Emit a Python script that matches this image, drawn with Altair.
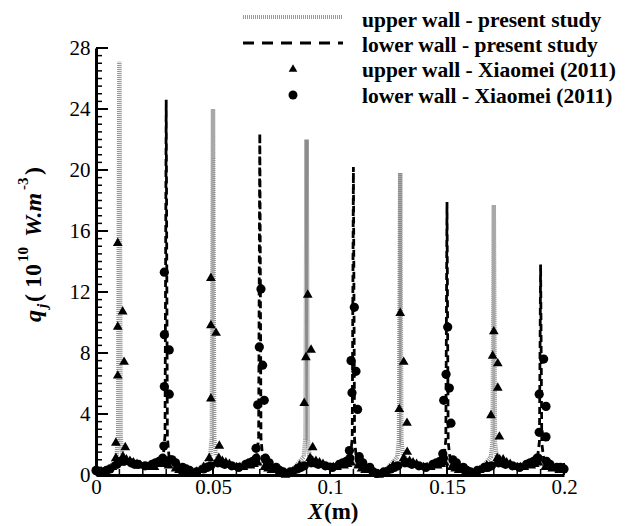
import altair as alt
import pandas as pd

# ---------------- data ----------------
upper_line = [
    (0, 0.2), (0.003, 0.3), (0.006, 0.5), (0.0088, 1.2), (0.0095, 2.6), (0.0100, 27.1), (0.0105, 2.5), (0.0112, 1.3),
    (0.013, 1.0), (0.017, 0.8), (0.021, 0.6), (0.025, 0.6), (0.029, 0.8), (0.033, 0.6), (0.037, 0.3), (0.041, 0.2),
    (0.045, 0.5), (0.0488, 1.2), (0.0495, 2.5), (0.0500, 24.0), (0.0505, 2.4), (0.0512, 1.3), (0.053, 1.0), (0.057, 0.7),
    (0.061, 0.6), (0.065, 0.6), (0.069, 0.8), (0.073, 0.6), (0.077, 0.3), (0.081, 0.1), (0.085, 0.5), (0.0888, 1.2),
    (0.0895, 2.4), (0.0900, 22.0), (0.0905, 2.3), (0.0912, 1.3), (0.093, 1.0), (0.097, 0.7), (0.101, 0.6), (0.105, 0.6),
    (0.109, 0.8), (0.113, 0.6), (0.117, 0.3), (0.121, 0.1), (0.125, 0.5), (0.1288, 1.2), (0.1295, 2.3), (0.1300, 19.8),
    (0.1305, 2.2), (0.1312, 1.3), (0.133, 1.0), (0.137, 0.7), (0.141, 0.6), (0.145, 0.6), (0.149, 0.8), (0.153, 0.6),
    (0.157, 0.3), (0.161, 0.2), (0.165, 0.5), (0.1688, 1.2), (0.1695, 2.2), (0.1700, 17.7), (0.1705, 2.1), (0.1712, 1.3),
    (0.173, 1.0), (0.177, 0.7), (0.181, 0.6), (0.185, 0.6), (0.189, 0.8), (0.193, 0.6), (0.197, 0.4), (0.2, 0.3),
]

lower_line = [
    (0, 0.3), (0.004, 0.2), (0.008, 0.5), (0.012, 0.8), (0.016, 0.7), (0.020, 0.6), (0.024, 0.7), (0.027, 0.9),
    (0.0288, 1.3), (0.0295, 2.6), (0.0300, 24.6), (0.0305, 2.5), (0.0312, 1.2), (0.033, 0.9), (0.037, 0.5), (0.041, 0.2),
    (0.045, 0.3), (0.049, 0.6), (0.053, 0.8), (0.057, 0.6), (0.061, 0.5), (0.064, 0.7), (0.067, 1.0), (0.0688, 1.3),
    (0.0695, 2.5), (0.0700, 22.4), (0.0705, 2.4), (0.0712, 1.2), (0.073, 0.9), (0.077, 0.5), (0.081, 0.1), (0.085, 0.3),
    (0.089, 0.6), (0.093, 0.8), (0.097, 0.6), (0.101, 0.5), (0.104, 0.7), (0.107, 1.0), (0.1088, 1.3), (0.1095, 2.4),
    (0.1100, 20.2), (0.1105, 2.3), (0.1112, 1.2), (0.113, 0.9), (0.117, 0.5), (0.121, 0.0), (0.125, 0.3), (0.129, 0.6),
    (0.133, 0.8), (0.137, 0.6), (0.141, 0.5), (0.144, 0.7), (0.147, 1.0), (0.1488, 1.3), (0.1495, 2.3), (0.1500, 17.9),
    (0.1505, 2.2), (0.1512, 1.2), (0.153, 0.9), (0.157, 0.5), (0.161, 0.2), (0.165, 0.3), (0.169, 0.6), (0.173, 0.8),
    (0.177, 0.6), (0.181, 0.5), (0.184, 0.7), (0.187, 1.0), (0.1888, 1.3), (0.1895, 2.2), (0.1900, 13.8), (0.1905, 2.1),
    (0.1912, 1.2), (0.193, 0.8), (0.196, 0.5), (0.2, 0.4),
]

upper_ref = [
    (0.0093, 15.3), (0.0093, 9.8), (0.0114, 10.8), (0.0120, 7.5), (0.0093, 6.6), (0.0085, 2.2), (0.0125, 1.9), (0.0085, 1.2),
    (0.0491, 13.0), (0.0491, 9.9), (0.0513, 9.4), (0.0491, 5.1), (0.0527, 2.0), (0.0484, 1.2),
    (0.0905, 11.9), (0.0919, 8.3), (0.0897, 7.8), (0.0890, 4.8), (0.0926, 1.9), (0.0925, 1.0),
    (0.1300, 10.7), (0.1315, 7.5), (0.1296, 4.4), (0.1329, 3.5), (0.1330, 1.6),
    (0.1700, 9.5), (0.1695, 7.9), (0.1717, 7.4), (0.1717, 5.8), (0.1688, 4.0), (0.1724, 2.6), (0.1725, 1.1),
    (0.001, 0.3), (0.004, 0.3), (0.007, 0.6), (0.013, 1.1), (0.016, 0.9), (0.019, 0.7), (0.022, 0.6), (0.025, 0.6),
    (0.028, 0.8), (0.031, 0.7), (0.034, 0.5), (0.037, 0.3), (0.040, 0.2), (0.043, 0.3), (0.046, 0.6), (0.054, 1.0),
    (0.057, 0.8), (0.060, 0.6), (0.063, 0.6), (0.066, 0.7), (0.069, 0.9), (0.072, 0.6), (0.075, 0.4), (0.078, 0.2),
    (0.081, 0.1), (0.084, 0.3), (0.087, 0.7), (0.094, 1.0), (0.097, 0.8), (0.100, 0.6), (0.103, 0.6), (0.106, 0.7),
    (0.109, 0.9), (0.112, 0.7), (0.115, 0.4), (0.118, 0.2), (0.121, 0.1), (0.124, 0.3), (0.127, 0.7), (0.134, 1.0),
    (0.137, 0.8), (0.140, 0.6), (0.143, 0.6), (0.146, 0.7), (0.149, 0.9), (0.152, 0.6), (0.155, 0.4), (0.158, 0.3),
    (0.161, 0.2), (0.164, 0.4), (0.167, 0.7), (0.174, 1.1), (0.177, 0.8), (0.180, 0.6), (0.183, 0.6), (0.186, 0.7),
    (0.189, 0.9), (0.192, 0.6), (0.195, 0.5), (0.198, 0.4),
    (0.0025, 0.2), (0.0115, 1.3), (0.0145, 1.0), (0.0175, 0.8), (0.0235, 0.6), (0.0295, 0.8), (0.0355, 0.4),
    (0.0445, 0.4), (0.0525, 1.2), (0.0555, 0.9), (0.0615, 0.6), (0.0675, 0.8), (0.0735, 0.5), (0.0855, 0.5),
    (0.0915, 1.2), (0.0955, 0.9), (0.1015, 0.6), (0.1075, 0.8), (0.1135, 0.5), (0.1255, 0.5), (0.1315, 1.2),
    (0.1355, 0.9), (0.1415, 0.6), (0.1475, 0.8), (0.1535, 0.5), (0.1655, 0.5), (0.1715, 1.2), (0.1755, 0.9),
    (0.1815, 0.6), (0.1875, 0.8), (0.1935, 0.6),
]

lower_ref = [
    (0.0292, 13.3), (0.0292, 9.2), (0.0313, 8.2), (0.0292, 5.8), (0.0313, 5.3), (0.0290, 1.9), (0.0318, 1.0),
    (0.0705, 12.2), (0.0698, 8.4), (0.0712, 7.2), (0.0691, 4.6), (0.0719, 4.9), (0.0684, 1.75), (0.0724, 1.1),
    (0.1104, 11.0), (0.1090, 7.5), (0.1111, 6.8), (0.1094, 5.4), (0.1118, 4.3), (0.1083, 1.6), (0.1125, 1.2),
    (0.1503, 9.7), (0.1496, 6.6), (0.1510, 5.7), (0.1486, 4.9), (0.1517, 3.4), (0.1482, 1.4),
    (0.1913, 7.6), (0.1894, 5.3), (0.1923, 4.5), (0.1894, 2.8), (0.1923, 2.5), (0.1890, 1.1),
    (0.000, 0.3), (0.003, 0.2), (0.006, 0.4), (0.009, 0.7), (0.012, 0.9), (0.015, 0.8), (0.018, 0.7), (0.021, 0.6),
    (0.024, 0.7), (0.027, 0.9), (0.034, 0.8), (0.037, 0.5), (0.040, 0.3), (0.043, 0.2), (0.046, 0.4), (0.049, 0.6),
    (0.052, 0.8), (0.055, 0.7), (0.058, 0.6), (0.061, 0.5), (0.064, 0.7), (0.067, 0.9), (0.074, 0.8), (0.077, 0.5),
    (0.080, 0.2), (0.083, 0.2), (0.086, 0.4), (0.089, 0.6), (0.092, 0.8), (0.095, 0.7), (0.098, 0.6), (0.101, 0.5),
    (0.104, 0.7), (0.107, 0.9), (0.114, 0.8), (0.117, 0.5), (0.120, 0.1), (0.123, 0.2), (0.126, 0.4), (0.129, 0.6),
    (0.132, 0.8), (0.135, 0.7), (0.138, 0.6), (0.141, 0.5), (0.144, 0.7), (0.147, 0.9), (0.154, 0.8), (0.157, 0.5),
    (0.160, 0.2), (0.163, 0.3), (0.166, 0.5), (0.169, 0.6), (0.172, 0.8), (0.175, 0.7), (0.178, 0.6), (0.181, 0.5),
    (0.184, 0.7), (0.187, 0.9), (0.194, 0.7), (0.197, 0.5), (0.200, 0.4),
    (0.0045, 0.3), (0.0105, 0.9), (0.0165, 0.7), (0.0255, 0.8), (0.0285, 1.1), (0.0325, 1.0), (0.0385, 0.4),
    (0.0475, 0.5), (0.0535, 0.8), (0.0655, 0.8), (0.0685, 1.1), (0.0725, 1.0), (0.0785, 0.3), (0.0875, 0.5),
    (0.0935, 0.8), (0.1055, 0.8), (0.1085, 1.1), (0.1125, 1.0), (0.1185, 0.2), (0.1275, 0.5), (0.1335, 0.8),
    (0.1455, 0.8), (0.1485, 1.1), (0.1525, 1.0), (0.1585, 0.3), (0.1675, 0.5), (0.1735, 0.8), (0.1855, 0.8),
    (0.1885, 1.1), (0.1925, 0.9), (0.1985, 0.5),
]

x_ticks = [0, 0.05, 0.1, 0.15, 0.2]
x_minor = [0.01, 0.02, 0.03, 0.04, 0.06, 0.07, 0.08, 0.09, 0.11, 0.12, 0.13, 0.14, 0.16, 0.17, 0.18, 0.19]
y_ticks = [0, 4, 8, 12, 16, 20, 24, 28]
y_minor = [v / 2 for v in range(57) if v % 8 != 0]

legend_labels = [
    "upper wall - present study",
    "lower wall - present study",
    "upper wall - Xiaomei (2011)",
    "lower wall - Xiaomei (2011)",
]

# ---------------- layout ----------------
W, H = 468, 427
SERIF = "Liberation Serif, Times New Roman, serif"

def df(pairs):
    return pd.DataFrame(pairs, columns=["x", "y"])

xscale = alt.Scale(domain=[0, 0.2], nice=False, zero=False)
yscale = alt.Scale(domain=[0, 28], nice=False, zero=False)
xaxis = alt.Axis(values=x_ticks, format="~g", title=None, ticks=False, grid=False,
                 domainColor="black", domainWidth=3, labelFont=SERIF, labelFontSize=21,
                 labelColor="black", labelPadding=1, labelFlush=False, labelOverlap=False)
yaxis = alt.Axis(values=y_ticks, title=None, ticks=False, grid=False,
                 domainColor="black", domainWidth=3, labelFont=SERIF, labelFontSize=21,
                 labelColor="black", labelPadding=6, labelOverlap=False)

def X(field="x"):
    return alt.X(f"{field}:Q", scale=xscale, axis=xaxis)

def Y(field="y"):
    return alt.Y(f"{field}:Q", scale=yscale, axis=yaxis)

upper = alt.Chart(df(upper_line)).mark_line(
    color="#8c8c8c", strokeWidth=4.5, strokeDash=[1, 1]
).encode(x=X(), y=Y())

lower = alt.Chart(df(lower_line)).mark_line(
    color="black", strokeWidth=2.8, strokeDash=[7, 4]
).encode(x=X(), y=Y())

tri = alt.Chart(df(upper_ref)).mark_point(
    shape="triangle-up", filled=True, color="black", opacity=1, size=95
).encode(x=X(), y=Y())

circ = alt.Chart(df(lower_ref)).mark_point(
    shape="circle", filled=True, color="black", opacity=1, size=85
).encode(x=X(), y=Y())

# inward tick marks
ymaj = alt.Chart(pd.DataFrame({"y": y_ticks})).mark_rule(color="black", strokeWidth=2).encode(
    y=Y(), x=alt.value(0), x2=alt.value(12))
ymin = alt.Chart(pd.DataFrame({"y": y_minor})).mark_rule(color="black", strokeWidth=1.5).encode(
    y=Y(), x=alt.value(0), x2=alt.value(6))
xmaj = alt.Chart(pd.DataFrame({"x": x_ticks})).mark_rule(color="black", strokeWidth=2).encode(
    x=X(), y=alt.value(H), y2=alt.value(H - 12))
xmin = alt.Chart(pd.DataFrame({"x": x_minor})).mark_rule(color="black", strokeWidth=1.5).encode(
    x=X(), y=alt.value(H), y2=alt.value(H - 6))

one = pd.DataFrame({"k": [0]})

def txt(s, x, y, size=21, style="normal", weight="bold", align="left", baseline="middle", angle=0):
    return alt.Chart(one).mark_text(
        text=s, font=SERIF, fontSize=size, fontStyle=style, fontWeight=weight,
        align=align, baseline=baseline, angle=angle, color="black"
    ).encode(x=alt.value(x), y=alt.value(y))

# legend
leg_x0, leg_x1, lab_x = 147, 247, 266
sym_rows = [-31, -5, 20, 47]
lab_rows = [-27, -2, 23, 49]
leg = [
    alt.Chart(one).mark_rule(color="#9a9a9a", strokeWidth=4, strokeDash=[1, 1]).encode(
        x=alt.value(leg_x0), x2=alt.value(leg_x1), y=alt.value(sym_rows[0])),
    alt.Chart(one).mark_rule(color="black", strokeWidth=2.8, strokeDash=[11, 8]).encode(
        x=alt.value(leg_x0), x2=alt.value(leg_x1), y=alt.value(sym_rows[1])),
    alt.Chart(one).mark_point(shape="triangle-up", filled=True, color="black", opacity=1, size=75).encode(
        x=alt.value(197), y=alt.value(sym_rows[2])),
    alt.Chart(one).mark_point(shape="circle", filled=True, color="black", opacity=1, size=80).encode(
        x=alt.value(197), y=alt.value(sym_rows[3])),
]
for lbl, yy in zip(legend_labels, lab_rows):
    leg.append(txt(lbl, lab_x, yy, size=21.5))

# axis titles
xt = [
    txt("X", 212, 471, size=23, style="italic", baseline="alphabetic"),
    txt("(m)", 228, 471, size=23, baseline="alphabetic"),
]
bx = -55
yt = [
    txt("q", bx, 274, size=24, style="italic", baseline="alphabetic", angle=270),
    txt("j", bx + 6, 260, size=15, style="italic", baseline="alphabetic", angle=270),
    txt("(", bx, 254, size=24, baseline="alphabetic", angle=270),
    txt("10", bx, 240, size=24, baseline="alphabetic", angle=270),
    txt("10", bx - 13, 214, size=15, baseline="alphabetic", angle=270),
    txt("W.m", bx, 189, size=24, style="italic", baseline="alphabetic", angle=270),
    txt("-3", bx - 13, 142, size=15, baseline="alphabetic", angle=270),
    txt(")", bx, 127, size=24, baseline="alphabetic", angle=270),
]

chart = alt.layer(
    upper, lower, tri, circ, ymaj, ymin, xmaj, xmin, *leg, *xt, *yt
).properties(
    width=W, height=H,
    autosize=alt.AutoSizeParams(type="none"),
    padding={"left": 88, "top": 40, "right": 63, "bottom": 50},
).configure_view(strokeWidth=0)

chart.save("out.html", embed_options={"renderer": "svg", "actions": False})
